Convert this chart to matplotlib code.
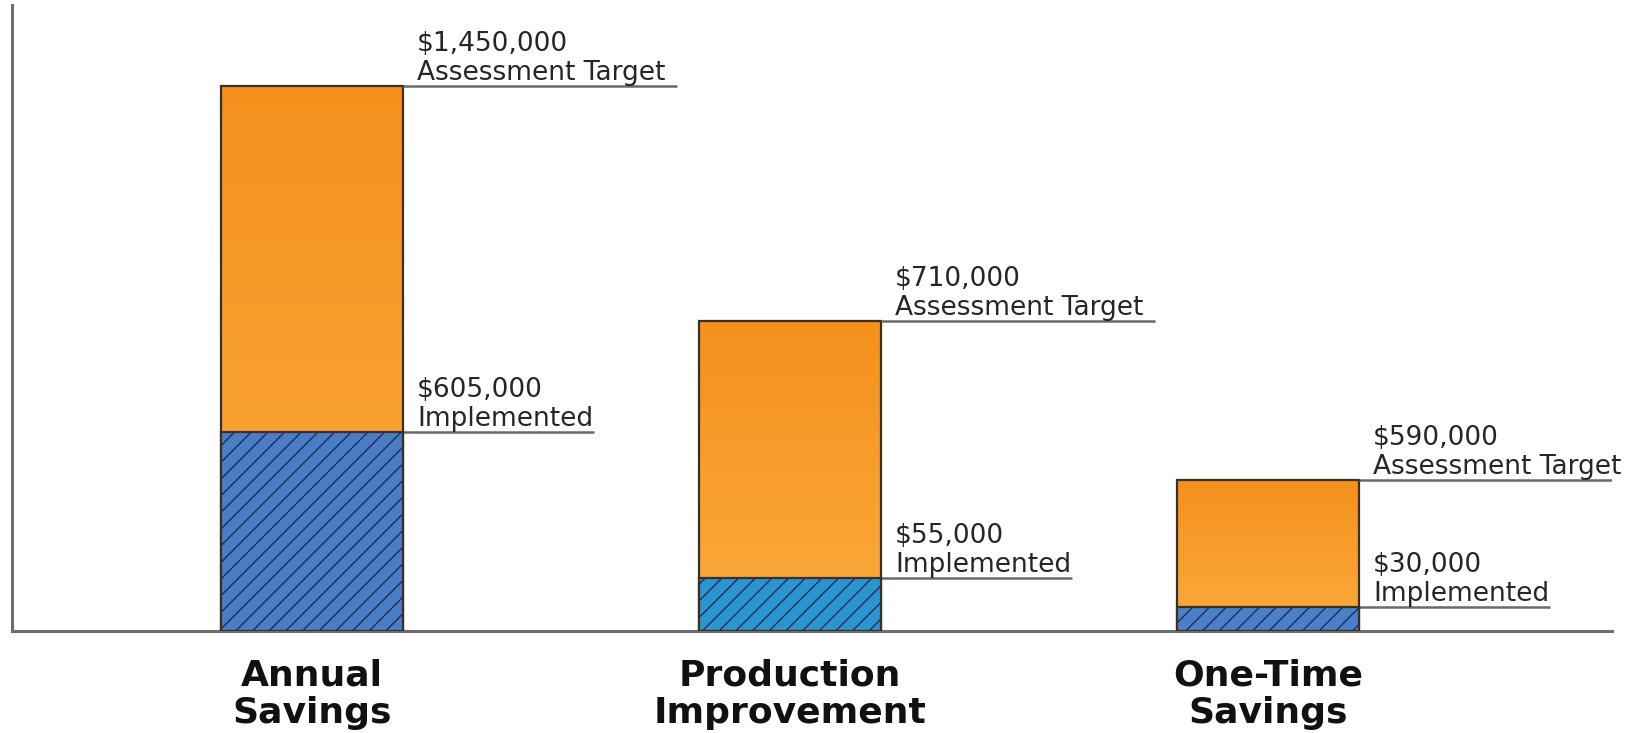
import numpy as np
import matplotlib
matplotlib.use("Agg")
import matplotlib.pyplot as plt
from matplotlib.colors import LinearSegmentedColormap
from matplotlib.transforms import offset_copy

# ---- data (bars are drawn illustratively, not to value scale) ----
categories = ["Annual\nSavings", "Production\nImprovement", "One-Time\nSavings"]
target_labels = ["$1,450,000", "$710,000", "$590,000"]
implemented_labels = ["$605,000", "$55,000", "$30,000"]
# drawn bar heights (arbitrary display units)
target_heights = [545, 310, 151]
implemented_heights = [199, 53, 24]
implemented_colors = ["#4A7DC6", "#2A95D0", "#4A80C8"]

W, H = 1650, 733
fig = plt.figure(figsize=(W / 100, H / 100), dpi=100)
ax = fig.add_axes([12 / W, (H - 631) / H, 1600 / W, 626 / H])
ax.set_xlim(-0.628, 2.72)
ax.set_ylim(0, 626)

for s in ["top", "right"]:
    ax.spines[s].set_visible(False)
for s in ["left", "bottom"]:
    ax.spines[s].set_color("#6e6e6e")
    ax.spines[s].set_linewidth(2.2)
ax.set_xticks([])
ax.set_yticks([])

bw = 0.381
x = np.arange(len(categories))
orange = LinearSegmentedColormap.from_list("org", ["#FBAC3E", "#F5901C"])
grad = np.linspace(0, 1, 256).reshape(-1, 1)

plt.rcParams["hatch.linewidth"] = 1.0
edge = "#3a2f22"
for i in range(len(categories)):
    # orange target bar with vertical gradient
    bars = ax.bar(x[i], target_heights[i], width=bw, color="none",
                  edgecolor=edge, linewidth=1.6, zorder=3)
    patch = bars[0]
    im = ax.imshow(grad, cmap=orange, aspect="auto", origin="lower",
                   extent=[x[i] - bw / 2, x[i] + bw / 2, 0, target_heights[i]],
                   zorder=2)
    im.set_clip_path(patch)
    # implemented hatched bar
    ax.bar(x[i], implemented_heights[i], width=bw, color=implemented_colors[i],
           edgecolor="#1c2e55", hatch="//", linewidth=1.4, zorder=4)
    ax.bar(x[i], implemented_heights[i], width=bw, color="none",
           edgecolor=edge, linewidth=1.6, zorder=5)

    right = x[i] + bw / 2
    # leader lines
    ax.plot([right, right + 0.573], [target_heights[i]] * 2,
            color="#6a6a6a", lw=1.8, zorder=3, solid_capstyle="butt")
    ax.plot([right, right + 0.40], [implemented_heights[i]] * 2,
            color="#6a6a6a", lw=1.8, zorder=3, solid_capstyle="butt")

    for h, top, bottom in [(target_heights[i], target_labels[i], "Assessment Target"),
                           (implemented_heights[i], implemented_labels[i], "Implemented")]:
        tr2 = offset_copy(ax.transData, fig=fig, x=14, y=6, units="dots")
        tr1 = offset_copy(ax.transData, fig=fig, x=14, y=35, units="dots")
        ax.text(right, h, bottom, transform=tr2, ha="left", va="baseline",
                fontsize=19, family="DejaVu Sans", color="#262626")
        ax.text(right, h, top, transform=tr1, ha="left", va="baseline",
                fontsize=19, family="DejaVu Sans", color="#262626")

    ax.text(x[i], -27, categories[i], ha="center", va="top",
            fontsize=26, fontweight="bold", family="DejaVu Sans",
            color="#111111", linespacing=1.13, clip_on=False)

fig.savefig("out.png", dpi=100)
